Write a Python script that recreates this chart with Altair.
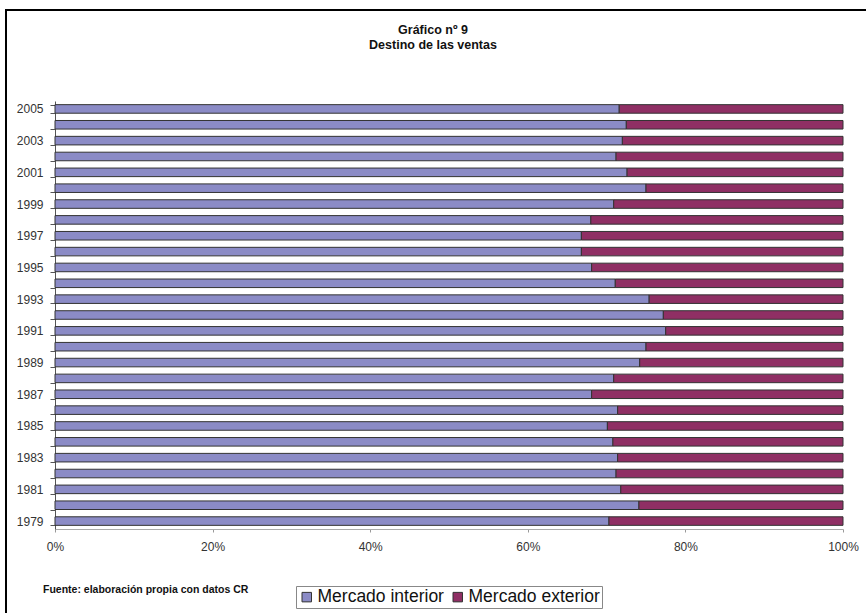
import altair as alt
import pandas as pd

# Share of sales by destination (%), one row per year, newest first
years = [2005, 2004, 2003, 2002, 2001, 2000, 1999, 1998, 1997, 1996, 1995, 1994, 1993,
         1992, 1991, 1990, 1989, 1988, 1987, 1986, 1985, 1984, 1983, 1982, 1981, 1980, 1979]
interior = [71.6, 72.5, 72.0, 71.2, 72.6, 75.0, 70.9, 68.0, 66.8, 66.8, 68.1, 71.1, 75.4,
            77.2, 77.5, 75.0, 74.2, 70.9, 68.1, 71.4, 70.1, 70.8, 71.4, 71.2, 71.8, 74.1, 70.3]
exterior = [28.4, 27.5, 28.0, 28.8, 27.4, 25.0, 29.1, 32.0, 33.2, 33.2, 31.9, 28.9, 24.6,
            22.8, 22.5, 25.0, 25.8, 29.1, 31.9, 28.6, 29.9, 29.2, 28.6, 28.8, 28.2, 25.9, 29.7]
series = ["Mercado interior", "Mercado exterior"]
colors = ["#8b8bc6", "#8f2f64"]
x_ticks = [0, 0.2, 0.4, 0.6, 0.8, 1.0]
title_lines = ["Gráfico nº 9", "Destino de las ventas"]
source_note = "Fuente: elaboración propia con datos CR"

rows = []
for y, a, b in zip(years, interior, exterior):
    rows.append({"year": y, "serie": series[0], "orden": 0, "valor": a})
    rows.append({"year": y, "serie": series[1], "orden": 1, "valor": b})
df = pd.DataFrame(rows)

FONT = "Liberation Sans"

bars = alt.Chart(df).mark_bar(stroke="#333333", strokeWidth=1).encode(
    y=alt.Y(
        "year:O",
        sort=years,
        title=None,
        scale=alt.Scale(paddingInner=0.46, paddingOuter=0.23),
        axis=alt.Axis(
            labelExpr="datum.value % 2 == 1 ? datum.label : ''",
            tickBand="extent",
            tickSize=5,
            tickColor="#555555",
            domainColor="#555555",
            labelPadding=7,
            labelFont=FONT,
            labelFontSize=12,
            labelColor="#333333",
        ),
    ),
    x=alt.X(
        "valor:Q",
        stack="normalize",
        title=None,
        scale=alt.Scale(domain=[0, 1]),
        axis=alt.Axis(
            values=x_ticks,
            format=".0%",
            grid=False,
            labelFlush=False,
            tickSize=3,
            tickColor="#999999",
            domainColor="#aaaaaa",
            labelPadding=9,
            labelFont=FONT,
            labelFontSize=12,
            labelColor="#333333",
        ),
    ),
    color=alt.Color(
        "serie:N",
        sort=series,
        scale=alt.Scale(domain=series, range=colors),
        legend=alt.Legend(
            title=None,
            orient="none",
            legendX=241,
            legendY=485,
            direction="horizontal",
            strokeColor="#888888",
            fillColor="white",
            padding=2,
            labelFont=FONT,
            labelFontSize=17.5,
            labelColor="#111111",
            labelOffset=2,
            symbolType="square",
            symbolSize=90,
            symbolStrokeColor="#333333",
            symbolStrokeWidth=1,
            columnPadding=5,
        ),
    ),
    order=alt.Order("orden:Q"),
)

one = pd.DataFrame({"k": [0]})

title1 = alt.Chart(one).mark_text(
    align="center", baseline="middle", font=FONT, fontSize=12.5, fontWeight="bold", color="#111111"
).encode(x=alt.value(378), y=alt.value(-71), text=alt.value(title_lines[0]))
title2 = alt.Chart(one).mark_text(
    align="center", baseline="middle", font=FONT, fontSize=12.5, fontWeight="bold", color="#111111"
).encode(x=alt.value(378), y=alt.value(-56), text=alt.value(title_lines[1]))

note = alt.Chart(one).mark_text(
    align="left", baseline="middle", font=FONT, fontSize=10.5, fontWeight="bold", color="#111111"
).encode(x=alt.value(-12), y=alt.value(489), text=alt.value(source_note))

frame_top = alt.Chart(one).mark_rule(color="#000000", strokeWidth=2).encode(
    x=alt.value(-50), x2=alt.value(811), y=alt.value(-91)
)
frame_left = alt.Chart(one).mark_rule(color="#000000", strokeWidth=2).encode(
    x=alt.value(-49), y=alt.value(-92), y2=alt.value(512)
)

chart = alt.layer(bars, title1, title2, note, frame_top, frame_left).properties(
    width=788,
    height=428,
    padding={"left": 55, "top": 101, "right": 23, "bottom": 84},
    autosize=alt.AutoSizeParams(type="none"),
).configure_view(stroke=None)

chart.save("out.html", embed_options={"renderer": "svg", "actions": False})
